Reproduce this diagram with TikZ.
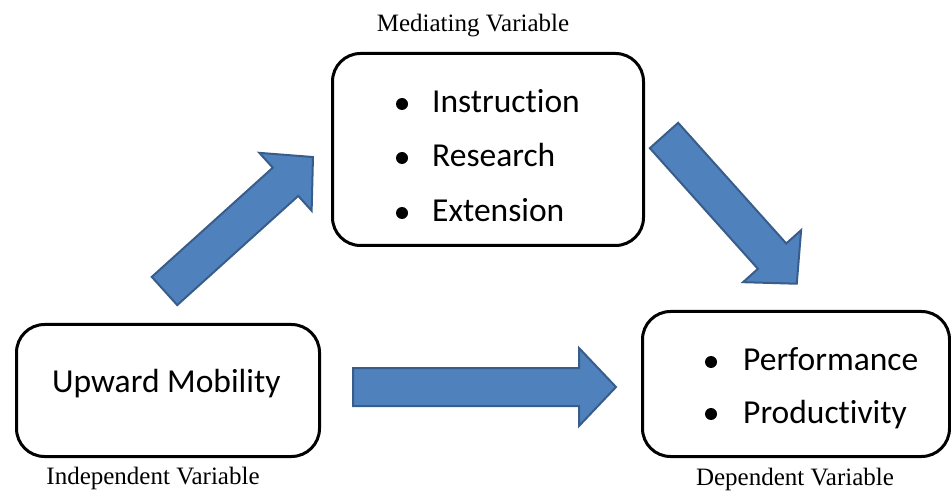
\documentclass[tikz,border=0pt]{standalone}
\usepackage{fontspec}
\setmainfont{Liberation Serif}
\newfontfamily\boxfont[Ligatures=NoCommon]{Carlito}
\definecolor{arrowfill}{HTML}{4F81BD}
\definecolor{arrowline}{HTML}{385D8A}
\begin{document}
\begin{tikzpicture}[x=1pt,y=1pt,
  varbox/.style={draw=black,line width=3pt,rounded corners=28pt,
    minimum width=#1,inner sep=0pt,anchor=south west},
  boxtext/.style={anchor=base west,inner sep=0pt,
    font=\boxfont\fontsize{33.5}{40}\selectfont},
  caption/.style={anchor=base,inner sep=0pt,
    font=\fontsize{25}{30}\selectfont},
  blockarrow/.style={fill=arrowfill,draw=arrowline,line width=2pt,line join=miter}]
\useasboundingbox (0,0) rectangle (951,496);

% boxes
\node[varbox=311pt,minimum height=192pt] (med) at (331,249) {};
\node[varbox=303pt,minimum height=132pt] (ind) at (15,38) {};
\node[varbox=307pt,minimum height=145pt] (dep) at (641,38) {};

% mediating variable items
\node[boxtext] (m1) at (432,383) {Instruction};
\node[boxtext] (m2) at (432,329) {Research};
\node[boxtext] (m3) at (432,274) {Extension};
\foreach \y in {392,338,283} \fill (402,\y) circle (6);

% independent variable
\node[boxtext] (u) at (52,104) {Upward Mobility};

% dependent variable items
\node[boxtext] (d1) at (743,125) {Performance};
\node[boxtext] (d2) at (743,73) {Productivity};
\foreach \y in {134,82} \fill (711,\y) circle (6);

% captions
\node[caption] (cm) at (473,464) {Mediating Variable};
\node[caption] (ci) at (153,12) {Independent Variable};
\node[caption] (cd) at (795,11) {Dependent Variable};

% block arrows: local frame, tail at origin, pointing along +x
\newcommand\blockarrowpath[1]{%
  (0,-19) -- (#1-37,-19) -- (#1-37,-39) -- (#1,0) -- (#1-37,39)
  -- (#1-37,19) -- (0,19) -- cycle}
\begin{scope}[shift={(164.5,205)},rotate=42.06]
  \draw[blockarrow] \blockarrowpath{200};
\end{scope}
\begin{scope}[shift={(664,360.5)},rotate=-48.15]
  \draw[blockarrow] \blockarrowpath{199};
\end{scope}
\begin{scope}[shift={(353,109)}]
  \draw[blockarrow] \blockarrowpath{263};
\end{scope}
\end{tikzpicture}
\end{document}
